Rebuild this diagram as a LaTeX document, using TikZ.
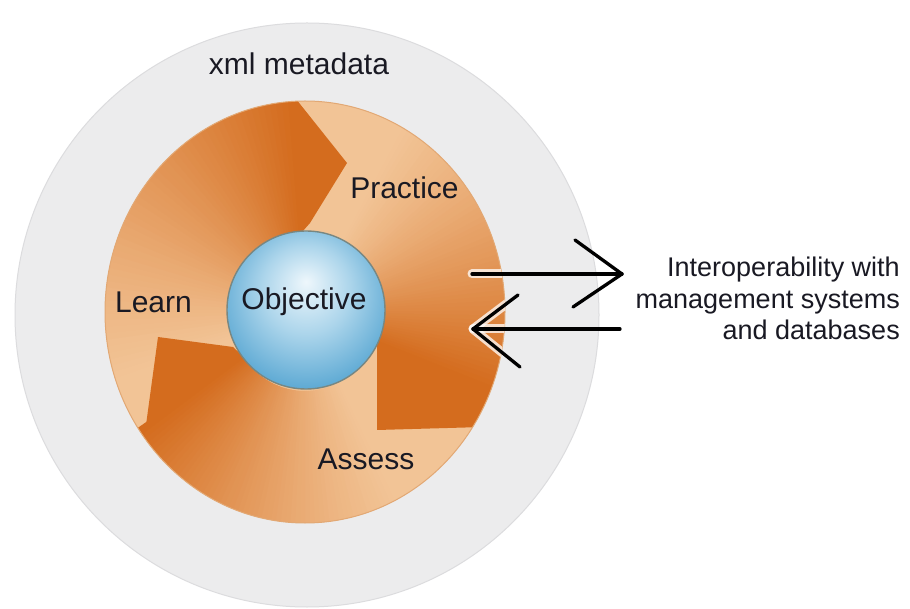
\documentclass[tikz,border=0pt]{standalone}
\usepackage{fontspec}
\setmainfont{Liberation Sans}
\usetikzlibrary{calc}

\definecolor{ringGray}{RGB}{236,236,237}
\definecolor{ringEdge}{RGB}{220,220,222}
\definecolor{discLight}{RGB}{242,196,150}
\definecolor{discEdge}{RGB}{226,168,116}
\definecolor{bandDark}{RGB}{212,108,30}
\definecolor{inkText}{RGB}{25,25,35}
\definecolor{glassA}{RGB}{238,247,252}
\definecolor{glassB}{RGB}{172,213,235}
\definecolor{glassC}{RGB}{98,172,213}
\definecolor{glassD}{RGB}{62,142,192}
\definecolor{glassEdge}{RGB}{120,135,130}

% glassy sphere: highlight sits above the centre
\pgfdeclareradialshading{glass}{\pgfpoint{0bp}{9bp}}{%
  color(0bp)=(glassA); color(14bp)=(glassB); color(28bp)=(glassC);
  color(36bp)=(glassD); color(50bp)=(glassD)}

% one curved band of the cycle, faded from its tail angle (#1) to its head angle (#2)
\newcommand\drawband[2]{%
  \foreach \k in {0,...,59}{%
    \pgfmathsetmacro\ta{#1+(#2-#1)*\k/60}%
    \pgfmathsetmacro\tb{#1+(#2-#1)*(\k+1.5)/60}%
    \pgfmathtruncatemacro\pc{min(100,100*((\k+1)/60)^1.2)}%
    \fill[bandDark!\pc!discLight]
      (\ta:75pt and 79pt) -- (\ta:200pt and 211pt)
      arc[start angle=\ta, end angle=\tb, x radius=200pt, y radius=211pt]
      -- (\tb:75pt and 79pt)
      arc[start angle=\tb, end angle=\ta, x radius=75pt, y radius=79pt]
      -- cycle;
  }%
}

\begin{document}
\begin{tikzpicture}[x=1pt,y=1pt,
  lbl/.style={font=\fontsize{30}{36}\selectfont, text=inkText, inner sep=0pt, anchor=base},
  sidetext/.style={font=\fontsize{27}{32}\selectfont, text=inkText, inner sep=0pt, anchor=base east},
  linkline/.style={draw=black, line width=3.3pt, line cap=round, line join=round},
  halo/.style={draw=white, line width=9pt, line cap=round, line join=round, opacity=0.75}]

\useasboundingbox (0,0) rectangle (910,608);
\fill[white] (0,0) rectangle (910,608);

% outer metadata ring
\node[circle, fill=ringGray, draw=ringEdge, line width=1pt,
      minimum size=584pt, inner sep=0pt] (meta) at (307,293) {};

% orange cycle disc with its three bands
\begin{scope}[shift={(305,296)}]
  \fill[discLight] (0,0) ellipse[x radius=200pt, y radius=211pt];
  \begin{scope}
    \clip (0,0) ellipse[x radius=200pt, y radius=211pt];
    % Learn -> Practice
    \drawband{200}{93}
    \fill[bandDark] (93:200pt and 211pt) -- (-9,213) -- (42,149) -- (5,89)
      -- (93:75pt and 79pt) -- cycle;
    % Practice -> Assess
    \drawband{62}{-22}
    \fill[bandDark] (-22:200pt and 211pt) -- (178,-115) -- (72,-118) -- (72,-35)
      -- (-22:75pt and 79pt) -- cycle;
    % Assess -> Learn
    \drawband{298}{214}
    \fill[bandDark] (214:200pt and 211pt) -- (-162,-135) -- (-147,-25) -- (-72,-35)
      -- (214:75pt and 79pt) -- cycle;
  \end{scope}
  \draw[discEdge, line width=1pt] (0,0) ellipse[x radius=200pt, y radius=211pt];
\end{scope}

% central sphere
\node[circle, minimum size=158pt, inner sep=0pt, shading=glass,
      draw=glassEdge, line width=1.4pt] (sphere) at (306,298) {};

% labels
\node[lbl] (xml) at (299,533) {xml metadata};
\node[lbl] (learn) at (153.5,295) {Learn};
\node[lbl] (objective) at (304,298) {Objective};
\node[lbl] (practice) at (404.5,409) {Practice};
\node[lbl] (assess) at (366,139) {Assess};

\node[sidetext] (side1) at (900,331) {Interoperability with};
\node[sidetext] (side2) at (900,299) {management systems};
\node[sidetext] (side3) at (900,268) {and databases};

% exchange arrows
\coordinate (upA) at (472,334);
\coordinate (upB) at (622,334);
\coordinate (loA) at (620,279);
\coordinate (loB) at (473,279);

\begin{scope}
  \clip (305,296) ellipse[x radius=200pt, y radius=211pt];
  \draw[halo] (upA) -- (upB);
  \draw[halo] (loA) -- (loB);
  \draw[halo] ($(loB)+(45,34)$) -- (loB) -- ($(loB)+(47,-38)$);
\end{scope}

\draw[linkline] (upA) -- (upB);
\draw[linkline] ($(upB)+(-47,34)$) -- (upB) -- ($(upB)+(-49,-33)$);
\draw[linkline] (loA) -- (loB);
\draw[linkline] ($(loB)+(45,34)$) -- (loB) -- ($(loB)+(47,-38)$);

\end{tikzpicture}
\end{document}
